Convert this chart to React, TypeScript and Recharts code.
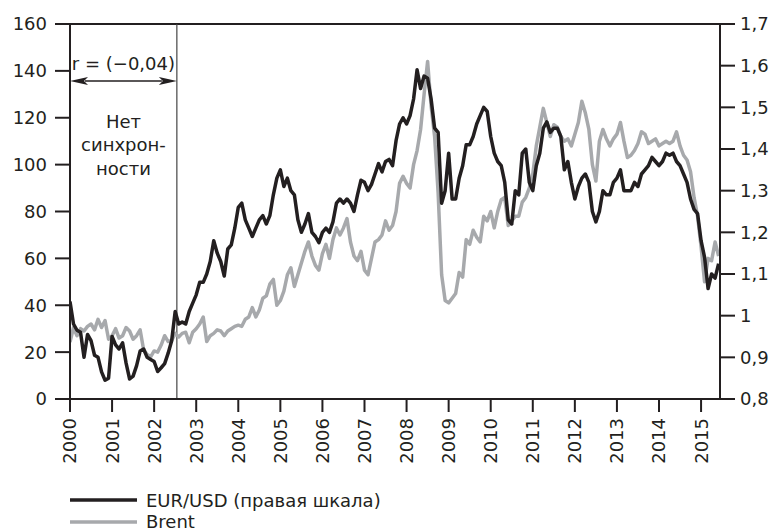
import React from 'react';
import { LineChart, Line, XAxis, YAxis, ReferenceLine } from 'recharts';

const FONT = '"DejaVu Sans", sans-serif';
const INK = '#231f20';
const GRAY = '#a7a9ac';

const START_YEAR = 2000;
const yearTicks = [2000, 2001, 2002, 2003, 2004, 2005, 2006, 2007, 2008, 2009, 2010, 2011, 2012, 2013, 2014, 2015];
const leftTicks = [0, 20, 40, 60, 80, 100, 120, 140, 160];
const rightTicks = [0.8, 0.9, 1, 1.1, 1.2, 1.3, 1.4, 1.5, 1.6, 1.7];

// EUR/USD, monthly (Jan 2000 – Jun 2015), right scale
const eurusd = [
  1.034, 0.98, 0.965, 0.96, 0.9, 0.955, 0.94, 0.905, 0.9, 0.865, 0.845, 0.85,
  0.95, 0.93, 0.92, 0.935, 0.886, 0.848, 0.855, 0.88, 0.915, 0.92, 0.9, 0.895,
  0.89, 0.866, 0.875, 0.885, 0.91, 0.94, 1.01, 0.98, 0.985, 0.98, 1.01, 1.03,
  1.05, 1.08, 1.08, 1.1, 1.13, 1.18, 1.15, 1.13, 1.095, 1.16, 1.17, 1.21,
  1.26, 1.27, 1.23, 1.21, 1.19, 1.21, 1.23, 1.24, 1.22, 1.24, 1.29, 1.33,
  1.35, 1.31, 1.33, 1.3, 1.29, 1.23, 1.2, 1.22, 1.245, 1.2, 1.19, 1.175,
  1.2, 1.21, 1.2, 1.225, 1.27, 1.28, 1.27, 1.28, 1.27, 1.25, 1.29, 1.325,
  1.32, 1.3, 1.315, 1.34, 1.365, 1.345, 1.37, 1.375, 1.36, 1.42, 1.46, 1.475,
  1.46, 1.48, 1.52, 1.59, 1.545, 1.575, 1.57, 1.52, 1.45, 1.44, 1.27, 1.3,
  1.39, 1.28, 1.28, 1.33, 1.36, 1.41, 1.41, 1.43, 1.46, 1.48, 1.5, 1.49,
  1.43, 1.39, 1.37, 1.36, 1.32, 1.23, 1.22, 1.3, 1.29, 1.39, 1.4, 1.32,
  1.3, 1.36, 1.39, 1.45, 1.465, 1.44, 1.45, 1.45, 1.43, 1.35, 1.37, 1.32,
  1.28, 1.31, 1.33, 1.34, 1.32, 1.25, 1.225, 1.25, 1.3, 1.29, 1.29, 1.32,
  1.33, 1.35, 1.3, 1.3, 1.3, 1.32, 1.31, 1.34, 1.35, 1.36, 1.38, 1.37,
  1.36, 1.37, 1.39, 1.385, 1.39, 1.37, 1.36, 1.34, 1.32, 1.28, 1.255, 1.245,
  1.18, 1.14, 1.065, 1.1, 1.09, 1.125,
];

// Brent, USD/bbl, monthly (Jan 2000 – Jun 2015), left scale
const brent = [
  24.3, 30.5, 27, 30, 29, 31, 32, 29.5, 34, 30.5, 33.5, 25.5,
  27, 30, 26, 27, 30.5, 29, 25.5, 27, 29.5, 21, 19, 18,
  20.5, 20, 23, 27, 24.5, 25, 28, 26.5, 28, 28.5, 24, 28.5,
  30, 32, 35, 24.5, 27, 28, 29.5, 29, 27, 29, 30, 31,
  31.5, 31, 34, 35, 39, 35, 38, 43, 44, 49, 51, 40,
  42, 46, 53, 56, 48, 53, 58, 63, 67, 61, 57, 55,
  62, 66, 60, 68, 73, 70, 73, 77, 67, 61, 59, 63,
  55, 53, 60, 67, 68, 70, 76, 72, 74, 80, 92, 95,
  92, 90, 100, 106, 115, 130, 144, 125, 112, 88, 53, 42,
  41, 43, 45, 54, 52, 68, 66, 72, 69, 67, 78, 76,
  80, 73, 80, 85, 86, 74, 76, 78, 78, 84, 86, 90,
  96, 108, 116, 124, 118, 112, 117, 116, 112, 110, 111, 108,
  113, 118, 127, 122, 115, 100, 93, 110, 115, 111, 108, 111,
  113, 118, 110, 103, 104, 106, 109, 114, 113, 109, 110, 111,
  108, 109, 110, 109, 110, 114, 108, 104, 102, 97, 86, 78,
  65, 50, 60, 59, 67, 61,
];

const splitDate = 2002.54;
const arrowLevel = 135.7;
const corrLabel = 'r = (\u22120,04)';
const noteLines = ['Нет', 'синхрон-', 'ности'];
const legendItems = [
  { name: 'EUR/USD (правая шкала)', color: INK },
  { name: 'Brent', color: GRAY },
];

const data = eurusd.map((v, i) => ({ t: START_YEAR + i / 12, eur: v, brent: brent[i] }));

const fmtRight = (v: number) => String(Number(v.toFixed(1))).replace('.', ',');

const XTick = (props: any) => {
  const { x, y, payload } = props;
  return (
    <text
      x={x}
      y={y}
      transform={`rotate(-90 ${x} ${y})`}
      textAnchor="end"
      dy="0.36em"
      fontFamily={FONT}
      fontSize={18}
      fill={INK}
    >
      {payload.value}
    </text>
  );
};

const ArrowShape = (props: any) => {
  const { x1, y1, x2, y2 } = props;
  const cx = (x1 + x2) / 2;
  const head = 18;
  const half = 4;
  const txt = { fontFamily: FONT, fontSize: 18, fill: INK, textAnchor: 'middle' as const };
  return (
    <g>
      <line x1={x1 + head - 3} y1={y1} x2={x2 - head + 3} y2={y2} stroke={INK} strokeWidth={1.6} />
      <polygon points={`${x1},${y1} ${x1 + head},${y1 - half} ${x1 + head - 4},${y1} ${x1 + head},${y1 + half}`} fill={INK} />
      <polygon points={`${x2},${y2} ${x2 - head},${y2 - half} ${x2 - head + 4},${y2} ${x2 - head},${y2 + half}`} fill={INK} />
      <text x={cx} y={y1 - 11} {...txt}>{corrLabel}</text>
      {noteLines.map((s, i) => (
        <text key={s} x={cx} y={y1 + 47 + i * 23.5} {...txt}>{s}</text>
      ))}
    </g>
  );
};

export default function App() {
  const tickStyle = { fontFamily: FONT, fontSize: 18, fill: INK };
  return (
    <div style={{ position: 'fixed', left: 0, top: 0, width: 773, height: 532, overflow: 'hidden', background: '#fff' }}>
      <LineChart width={773} height={532} data={data} margin={{ top: 24, right: 0, bottom: 0, left: 0 }}>
        <XAxis
          dataKey="t"
          type="number"
          domain={[2000, 2015.45]}
          ticks={yearTicks}
          interval={0}
          allowDataOverflow
          height={133}
          tickSize={13}
          tickMargin={6}
          axisLine={{ stroke: INK, strokeWidth: 2 }}
          tickLine={{ stroke: INK, strokeWidth: 2 }}
          tick={<XTick />}
        />
        <YAxis
          yAxisId="left"
          orientation="left"
          domain={[0, 160]}
          ticks={leftTicks}
          interval={0}
          width={70}
          tickSize={15}
          tickMargin={8}
          axisLine={{ stroke: INK, strokeWidth: 2 }}
          tickLine={{ stroke: INK, strokeWidth: 2 }}
          tick={tickStyle}
        />
        <YAxis
          yAxisId="right"
          orientation="right"
          domain={[0.8, 1.7]}
          ticks={rightTicks}
          interval={0}
          width={53}
          tickSize={15}
          tickMargin={5}
          tickFormatter={fmtRight}
          axisLine={{ stroke: INK, strokeWidth: 2 }}
          tickLine={{ stroke: INK, strokeWidth: 2 }}
          tick={tickStyle}
        />
        <ReferenceLine yAxisId="left" y={160} stroke={INK} strokeWidth={2} />
        <ReferenceLine yAxisId="left" x={splitDate} stroke="#444" strokeWidth={1.2} />
        <Line
          yAxisId="left"
          dataKey="brent"
          type="linear"
          stroke={GRAY}
          strokeWidth={3.5}
          dot={false}
          isAnimationActive={false}
          strokeLinejoin="round"
        />
        <Line
          yAxisId="right"
          dataKey="eur"
          type="linear"
          stroke={INK}
          strokeWidth={3.5}
          dot={false}
          isAnimationActive={false}
          strokeLinejoin="round"
        />
        <ReferenceLine
          yAxisId="left"
          segment={[{ x: 2000, y: arrowLevel }, { x: splitDate, y: arrowLevel }]}
          shape={<ArrowShape />}
        />
      </LineChart>
      <svg width={773} height={532} style={{ position: 'absolute', left: 0, top: 0, pointerEvents: 'none' }}>
        {legendItems.map((it, i) => (
          <g key={it.name}>
            <line x1={70} x2={137} y1={500 + i * 22} y2={500 + i * 22} stroke={it.color} strokeWidth={3.5} />
            <text x={146} y={506.5 + i * 21.5} fontFamily={FONT} fontSize={18} fill={INK}>{it.name}</text>
          </g>
        ))}
      </svg>
    </div>
  );
}
